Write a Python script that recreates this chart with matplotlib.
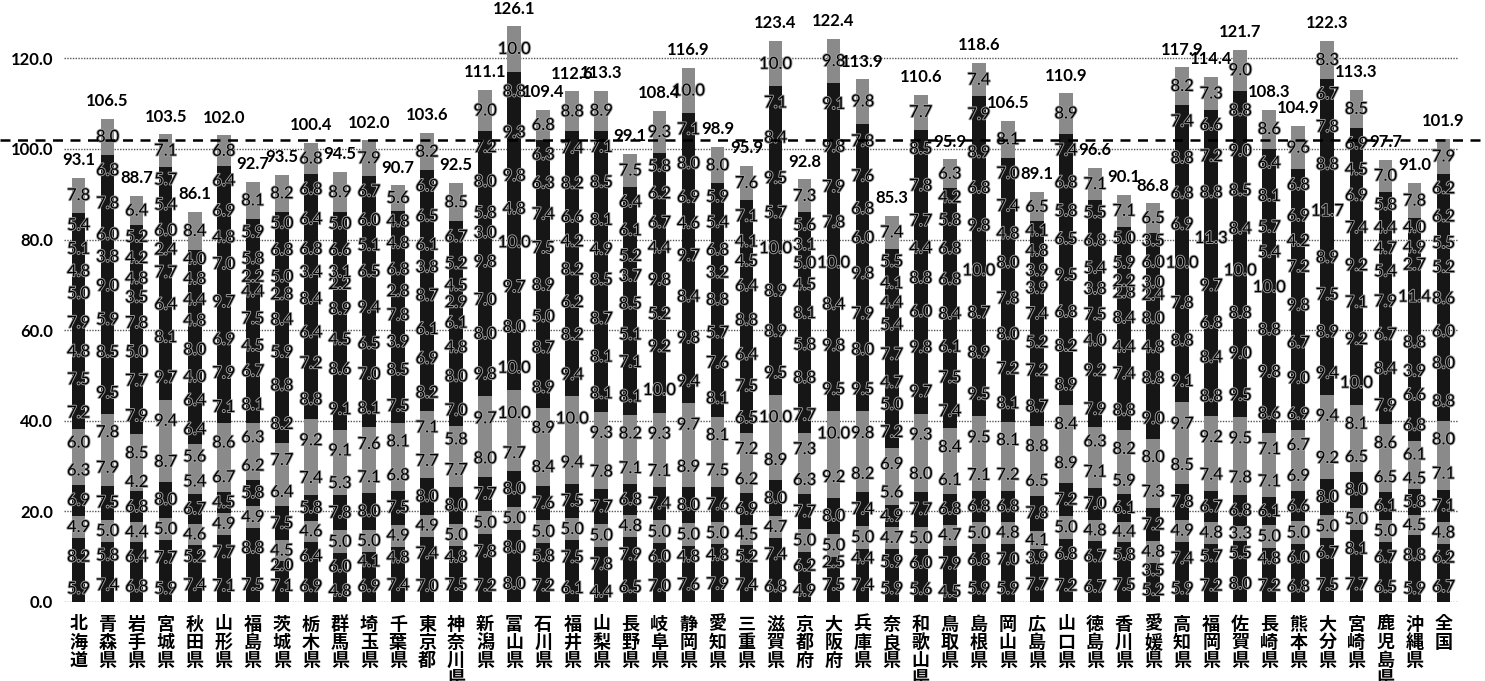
import numpy as np
import matplotlib
matplotlib.use("Agg")
import matplotlib.pyplot as plt
import matplotlib.patheffects as pe

plt.rcParams['font.family'] = ['Lato', 'Noto Sans CJK JP', 'DejaVu Sans']

prefs = ['北海道', '青森県', '岩手県', '宮城県', '秋田県', '山形県', '福島県', '茨城県',
         '栃木県', '群馬県', '埼玉県', '千葉県', '東京都', '神奈川県', '新潟県', '富山県',
         '石川県', '福井県', '山梨県', '長野県', '岐阜県', '静岡県', '愛知県', '三重県',
         '滋賀県', '京都府', '大阪府', '兵庫県', '奈良県', '和歌山県', '鳥取県', '島根県',
         '岡山県', '広島県', '山口県', '徳島県', '香川県', '愛媛県', '高知県', '福岡県',
         '佐賀県', '長崎県', '熊本県', '大分県', '宮崎県', '鹿児島県', '沖縄県', '全国']

totals = [93.1, 106.5, 88.7, 103.5, 86.1, 102.0, 92.7, 93.5, 100.4, 94.5, 102.0, 90.7,
          103.6, 92.5, 111.1, 126.1, 109.4, 112.6, 113.3, 99.1, 108.4, 116.9, 98.9, 95.9,
          123.4, 92.8, 122.4, 113.9, 85.3, 110.6, 95.9, 118.6, 106.5, 89.1, 110.9, 96.6,
          90.1, 86.8, 117.9, 114.4, 121.7, 108.3, 104.9, 122.3, 113.3, 97.7, 91.0, 101.9]

# stacked layers, bottom -> top
L1 = [5.9, 7.4, 6.8, 5.9, 7.4, 7.1, 7.5, 7.1, 6.9, 4.8, 6.9, 7.4, 7.0, 7.5, 7.2, 8.0,
      7.2, 6.1, 4.4, 6.5, 7.0, 7.6, 7.9, 7.4, 6.8, 4.9, 7.5, 7.4, 5.9, 5.6, 4.5, 5.9,
      5.9, 7.7, 7.2, 6.7, 7.5, 5.2, 5.9, 7.2, 8.0, 7.2, 6.8, 7.5, 7.7, 6.5, 5.9, 6.7]
L2 = [8.2, 5.8, 6.4, 7.7, 5.2, 7.7, 8.8, 2.0, 6.4, 6.0, 4.1, 4.8, 7.4, 4.8, 7.8, 8.0,
      5.8, 7.5, 7.8, 7.9, 6.0, 4.8, 4.8, 5.2, 7.4, 6.2, 2.5, 4.4, 5.9, 6.0, 7.9, 6.8,
      7.0, 3.9, 6.8, 6.7, 5.8, 3.5, 7.4, 5.7, 5.5, 4.8, 6.0, 6.7, 8.1, 6.7, 8.8, 6.2]
L3 = [4.9, 5.0, 4.4, 5.0, 4.6, 4.9, 4.9, 4.5, 4.6, 5.0, 5.0, 4.9, 4.9, 5.0, 5.0, 5.0,
      5.0, 5.0, 5.0, 4.8, 5.0, 5.0, 5.0, 4.5, 4.7, 5.0, 5.0, 5.0, 4.7, 5.0, 4.7, 5.0,
      4.8, 4.1, 5.0, 4.8, 4.4, 4.8, 4.9, 4.8, 3.3, 5.0, 5.0, 5.0, 5.0, 5.0, 4.5, 4.8]
L4 = [6.9, 7.5, 6.8, 8.0, 6.7, 4.5, 5.8, 7.5, 5.8, 7.8, 8.0, 7.5, 8.0, 8.0, 7.7, 8.0,
      7.6, 7.5, 7.7, 6.8, 7.4, 8.0, 7.6, 6.9, 8.0, 7.7, 8.0, 7.4, 4.9, 7.7, 6.8, 6.8,
      6.8, 7.8, 7.2, 7.0, 6.1, 7.2, 7.8, 6.7, 6.8, 6.1, 6.6, 8.0, 8.0, 6.1, 5.8, 7.1]
L5 = [6.3, 7.9, 4.2, 8.7, 5.4, 6.7, 6.2, 6.4, 7.4, 5.3, 7.1, 6.8, 7.7, 7.7, 8.0, 7.7,
      8.4, 9.4, 7.8, 7.1, 7.1, 8.9, 7.5, 6.2, 8.9, 6.3, 9.2, 8.2, 5.6, 8.0, 6.1, 7.1,
      7.2, 6.5, 8.9, 7.1, 5.9, 7.3, 8.5, 7.4, 7.8, 7.1, 6.9, 9.2, 6.5, 6.5, 4.5, 7.1]
L6 = [6.0, 7.8, 8.5, 9.4, 5.6, 8.6, 6.3, 7.7, 9.2, 9.1, 7.6, 8.1, 7.1, 5.8, 9.7, 10.0,
      8.9, 10.0, 9.3, 8.2, 9.3, 9.7, 8.1, 7.2, 10.0, 7.3, 10.0, 9.8, 6.9, 9.3, 8.4, 9.5,
      8.1, 8.8, 8.4, 6.3, 8.2, 8.0, 9.7, 9.2, 9.5, 7.1, 6.7, 9.4, 8.1, 8.6, 6.1, 8.0]
L7 = [7.2, 9.5, 7.9, 9.7, 6.4, 7.1, 8.1, 8.2, 8.8, 9.1, 8.1, 7.5, 8.2, 7.0, 9.8, 10.0,
      8.9, 9.4, 8.1, 8.1, 10.0, 9.4, 8.1, 6.5, 9.5, 7.7, 9.5, 9.5, 7.2, 9.7, 7.4, 9.5,
      8.1, 8.7, 8.9, 7.9, 8.8, 9.0, 9.1, 8.8, 9.5, 8.6, 6.9, 9.4, 10.0, 7.9, 6.8, 8.8]
L8 = [7.5, 8.5, 7.7, 8.1, 6.4, 7.9, 6.7, 8.8, 7.2, 8.6, 7.0, 8.5, 6.9, 8.0, 8.0, 8.0,
      8.7, 8.2, 8.1, 7.1, 9.2, 9.8, 7.6, 7.5, 8.9, 8.8, 9.8, 8.0, 5.0, 9.8, 7.5, 8.9,
      7.2, 7.2, 8.2, 9.2, 7.4, 8.8, 8.8, 8.4, 9.0, 9.8, 9.0, 8.9, 9.2, 8.4, 6.6, 8.0]
L9 = [4.8, 5.9, 5.0, 6.4, 4.0, 6.9, 4.5, 5.9, 6.4, 4.5, 6.5, 3.9, 6.1, 4.8, 7.0, 9.7,
      5.0, 6.2, 8.7, 5.1, 5.2, 8.4, 5.7, 6.4, 8.9, 5.8, 8.4, 7.9, 4.7, 6.0, 6.1, 8.7,
      8.0, 5.2, 6.8, 4.0, 4.4, 4.8, 7.8, 6.8, 8.8, 8.8, 6.7, 7.5, 7.1, 6.7, 3.9, 6.0]
L10 = [7.9, 9.0, 7.8, 7.7, 8.0, 9.7, 7.5, 8.4, 8.4, 8.9, 9.4, 7.8, 8.7, 6.1, 9.8, 10.0,
       8.9, 8.2, 8.5, 8.5, 9.8, 9.7, 8.8, 8.8, 10.0, 8.1, 10.0, 9.8, 7.7, 8.8, 8.4, 10.0,
       7.8, 7.4, 9.5, 7.5, 8.4, 8.0, 10.0, 9.7, 10.0, 10.0, 9.8, 8.9, 9.2, 7.9, 8.8, 8.6]
L11 = [5.0, 3.8, 3.5, 2.4, 4.8, 7.0, 4.4, 2.8, 3.4, 2.2, 6.5, 2.8, 3.8, 2.9, 3.0, 4.8,
       7.5, 4.2, 4.9, 3.7, 4.4, 4.6, 3.2, 6.4, 5.7, 4.5, 7.8, 6.0, 5.4, 4.4, 6.8, 9.8,
       8.0, 3.9, 6.5, 3.8, 2.8, 2.4, 6.9, 11.3, 8.4, 5.4, 7.2, 11.7, 7.4, 5.4, 11.4, 5.2]
L12 = [4.8, 6.0, 4.8, 6.0, 4.4, 4.8, 2.2, 5.0, 6.8, 3.1, 5.1, 6.8, 6.1, 4.5, 5.8, 9.8,
       7.4, 6.6, 8.1, 5.2, 6.7, 6.9, 6.8, 4.5, 9.5, 5.0, 7.9, 6.8, 4.4, 7.7, 6.8, 6.8,
       4.8, 3.9, 5.8, 5.4, 2.2, 3.0, 6.8, 8.8, 8.5, 5.7, 4.2, 8.8, 6.9, 4.7, 2.7, 5.5]
L13 = [5.1, 7.8, 4.2, 5.4, 4.8, 6.9, 5.8, 6.8, 6.4, 6.6, 6.0, 4.8, 6.5, 5.2, 8.0, 9.3,
       6.3, 8.2, 8.5, 6.1, 6.2, 8.0, 5.4, 4.1, 8.4, 3.1, 9.8, 7.6, 4.1, 7.8, 5.8, 8.9,
       7.4, 4.8, 6.8, 6.8, 5.9, 6.0, 8.8, 7.2, 9.0, 8.1, 6.9, 7.8, 4.5, 4.4, 4.9, 6.2]
L14 = [5.4, 6.8, 5.2, 5.7, 4.0, 6.4, 5.9, 5.0, 6.8, 5.0, 6.7, 4.8, 6.9, 6.7, 7.2, 8.8,
       6.3, 7.4, 7.1, 6.4, 5.8, 7.1, 5.9, 7.1, 7.1, 5.6, 9.1, 7.8, 5.5, 8.5, 4.2, 7.9,
       7.0, 4.1, 7.4, 5.5, 5.0, 3.5, 7.4, 6.6, 8.8, 6.4, 6.8, 6.7, 6.9, 5.8, 4.0, 6.2]
L15 = [7.8, 8.0, 6.4, 7.1, 8.4, 6.8, 8.1, 8.2, 6.8, 8.9, 7.9, 5.6, 8.2, 8.5, 9.0, 10.0,
       6.8, 8.8, 8.9, 7.5, 9.3, 10.0, 8.0, 7.6, 10.0, 7.3, 9.8, 9.8, 7.4, 7.7, 6.3, 7.4,
       8.1, 6.5, 8.9, 7.1, 7.1, 6.5, 8.2, 7.3, 9.0, 8.6, 9.6, 8.3, 8.5, 7.0, 7.8, 7.9]

layers = [L1, L2, L3, L4, L5, L6, L7, L8, L9, L10, L11, L12, L13, L14, L15]

DARK = '#161616'
GRAY = '#8a8a8a'
layer_colors = [DARK, DARK, GRAY, DARK, GRAY, GRAY, DARK, DARK,
                DARK, DARK, DARK, DARK, DARK, DARK, GRAY]

x = np.arange(len(prefs))

fig = plt.figure(figsize=(14.85, 6.81), dpi=100)
ax = fig.add_axes([64 / 1485, 79 / 681, 1394 / 1485, 602.5 / 681])

halo = [pe.withStroke(linewidth=1.3, foreground='#a0a0a0')]
bottom = np.zeros(len(prefs))
for vals, col in zip(layers, layer_colors):
    vals = np.array(vals)
    bars = ax.bar(x, vals, 0.47, bottom=bottom, color=col, linewidth=0, zorder=2)
    ax.bar_label(bars, fmt='%.1f', label_type='center', fontsize=12,
                 color='black', zorder=4, path_effects=halo)
    bottom += vals

ax.bar_label(bars, labels=[f"{t:.1f}" for t in totals], padding=7,
             fontsize=12, fontweight='bold', zorder=4)

# national average
ax.axhline(totals[-1], xmin=-64 / 1394, xmax=(1483 - 64) / 1394, color='black',
           lw=1.8, ls=(0, (4, 3)), clip_on=False, zorder=5)

ax.set_xlim(-0.5, len(prefs) - 0.5)
ax.set_ylim(0, 133)
ax.set_yticks(np.arange(0, 121, 20))
ax.set_yticklabels([f"{v:.1f}" for v in np.arange(0, 121, 20)], fontweight='bold')
ax.set_xticks(x)
ax.set_xticklabels(['\n'.join(p) for p in prefs], fontsize=13, fontweight='bold',
                   family=['Noto Sans CJK JP'], linespacing=0.95)
ax.tick_params(axis='x', length=0, pad=9)
ax.tick_params(axis='y', length=0, pad=8, labelsize=12)
ax.yaxis.grid(True, color='#555555', lw=1.0, ls=(0, (1, 1)), zorder=0)
ax.set_axisbelow(True)
for s in ax.spines.values():
    s.set_visible(False)

fig.savefig('out.png', dpi=100)
